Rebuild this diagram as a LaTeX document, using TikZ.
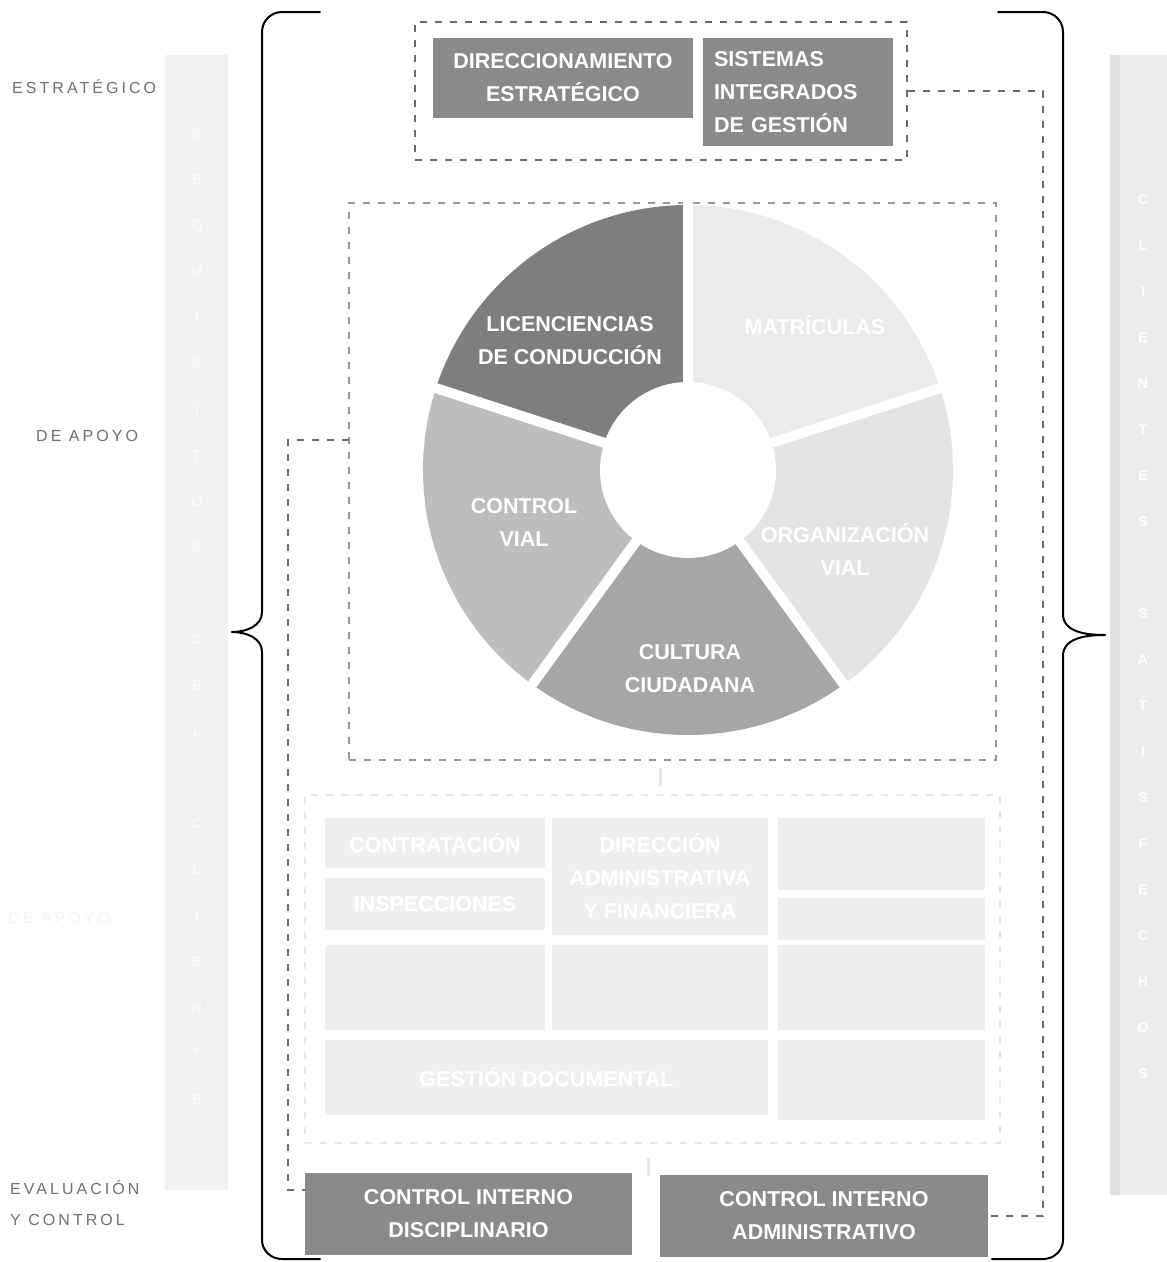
\documentclass[tikz,border=0pt]{standalone}
\usepackage{fontspec}
\setmainfont{Liberation Sans}
\usetikzlibrary{calc}
\definecolor{boxgray}{HTML}{8A8A8A}
\definecolor{dashgray}{HTML}{6A6A6A}
\definecolor{lblgray}{HTML}{707070}
\definecolor{licgray}{HTML}{7E7E7E}
\definecolor{ctrlgray}{HTML}{BDBDBD}
\definecolor{cultgray}{HTML}{A6A6A6}
\definecolor{orggray}{HTML}{E4E4E7}
\definecolor{matgray}{HTML}{EBEBED}
\definecolor{barlight}{HTML}{F1F1F3}
\definecolor{barright}{HTML}{EDEDF0}
\definecolor{barstrip}{HTML}{E1E1E5}
\definecolor{cellgray}{HTML}{EFEFF2}
\definecolor{faintline}{HTML}{E6E6E8}
\newcommand{\rsBoxFont}{\fontsize{21.5}{33}\selectfont\bfseries}
\newcommand{\rsLblFont}{\fontsize{16}{32}\selectfont\addfontfeature{LetterSpace=19}}
\newcommand{\rsBarFont}{\fontsize{14}{15}\selectfont\bfseries}
\begin{document}
\begin{tikzpicture}[x=1pt,y=-1pt,
  darkbox/.style={fill=boxgray, text=white, font=\rsBoxFont, align=center, inner sep=0pt},
  dashline/.style={draw=dashgray, line width=1.4pt, dash pattern=on 7pt off 8pt},
  faintdash/.style={draw=faintline, line width=1.2pt, dash pattern=on 7pt off 8pt},
  piebox/.style={draw=dashgray!70, line width=1.2pt, dash pattern=on 7pt off 8pt, inner sep=0pt},
  lbl/.style={text=lblgray, font=\rsLblFont, anchor=west, align=left, inner sep=0pt},
  pietext/.style={text=white, font=\rsBoxFont, align=center, inner sep=0pt},
  cell/.style={fill=cellgray, text=white, font=\rsBoxFont, align=center, inner sep=0pt},
  bartext/.style={text=white, font=\rsBarFont, inner sep=0pt},
  brace/.style={draw=black, line width=2pt, line cap=round, line join=round}]
\useasboundingbox (0,0) rectangle (1167,1262);
\fill[white] (0,0) rectangle (1167,1262);

% side bars
\fill[barlight] (165,55) rectangle (228,1190);
\fill[barright] (1110,55) rectangle (1167,1195);
\fill[barstrip] (1110,55) rectangle (1120,1195);
\foreach \ch [count=\i from 0] in {R,E,Q,U,I,S,I,T,O,S,{},D,E,L,{},C,L,I,E,N,T,E}
  \node[bartext, text=white!60!barlight] (lb\i) at (197,134+46*\i) {\ch};
\foreach \ch [count=\i from 0] in {C,L,I,E,N,T,E,S,{},S,A,T,I,S,F,E,C,H,O,S}
  \node[bartext] (rb\i) at (1143,200+46*\i) {\ch};

% left labels
\node[lbl] (lblE) at (12,87) {ESTRATÉGICO};
\node[lbl] (lblA) at (36,436) {DE APOYO};
\node[lbl, text=black!4] (lblA2) at (8,918) {DE APOYO};
\node[lbl] (lblV) at (10,1188) {EVALUACIÓN};
\node[lbl] (lblC) at (10,1220) {Y CONTROL};

% braces
\draw[brace] (320,12) -- (282,12) to[out=180,in=90] (262,32) -- (262,612) to[out=-90,in=0] (232,632) to[out=0,in=90] (262,652) -- (262,1240) to[out=-90,in=180] (282,1259) -- (320,1259);
\draw[brace] (998,12) -- (1043,12) to[out=0,in=90] (1063,32) -- (1063,614) to[out=-90,in=180] (1105,635) to[out=180,in=90] (1063,656) -- (1063,1240) to[out=-90,in=0] (1043,1259) -- (992,1259);

% strategic group
\node[piebox, draw=dashgray, minimum width=492pt, minimum height=138pt] (estrbox) at (661,91) {};
\node[darkbox, minimum width=260pt, minimum height=80pt] (dir) at (563,78) {DIRECCIONAMIENTO\\ESTRATÉGICO};
\node[darkbox, minimum width=190pt, minimum height=108pt, text width=168pt, align=left] (sig) at (798,92) {SISTEMAS\\INTEGRADOS\\DE GESTIÓN};

% pie group
\node[piebox, minimum width=647pt, minimum height=557pt] (piebox) at (672.5,481.5) {};
\coordinate (C) at (688,470);
\foreach \a/\b/\c in {90/162/licgray, 162/234/ctrlgray, 234/306/cultgray, 306/378/orggray, 18/90/matgray}
  \fill[\c] (C) -- ($(C)+(-\a:265)$) arc[start angle=-\a, end angle=-\b, radius=265] -- cycle;
\foreach \a in {90,162,234,306,18}
  \draw[white, line width=10pt] (C) -- ($(C)+(-\a:275)$);
\fill[white] (C) circle[radius=88];
\node[pietext] (lic) at (570,341) {LICENCIENCIAS\\DE CONDUCCIÓN};
\node[pietext] (mat) at (815,325) {MATRÍCULAS};
\node[pietext] (ctrl) at (524,522) {CONTROL\\VIAL};
\node[pietext] (org) at (845,549) {ORGANIZACIÓN\\VIAL};
\node[pietext] (cult) at (690,669) {CULTURA\\CIUDADANA};

% faint support grid
\node[faintdash, minimum width=695pt, minimum height=348pt, inner sep=0pt] (gridbox) at (652.5,969) {};
\node[cell, minimum width=220pt, minimum height=50pt] (g1) at (435,843) {CONTRATACIÓN};
\node[cell, minimum width=220pt, minimum height=52pt] (g2) at (435,904) {INSPECCIONES};
\node[cell, minimum width=216pt, minimum height=117pt] (g3) at (660,876.5) {DIRECCIÓN\\ADMINISTRATIVA\\Y FINANCIERA};
\node[cell, minimum width=207pt, minimum height=72pt] (g4) at (881.5,854) {};
\node[cell, minimum width=207pt, minimum height=42pt] (g5) at (881.5,919) {};
\node[cell, minimum width=220pt, minimum height=85pt] (g6) at (435,987.5) {};
\node[cell, minimum width=216pt, minimum height=85pt] (g7) at (660,987.5) {};
\node[cell, minimum width=207pt, minimum height=85pt] (g8) at (881.5,987.5) {};
\node[cell, minimum width=443pt, minimum height=75pt] (g9) at (546.5,1077.5) {GESTIÓN DOCUMENTAL};
\node[cell, minimum width=207pt, minimum height=80pt] (g10) at (881.5,1080) {};
\coordinate (m1a) at (660,768); \coordinate (m1b) at (660,786);
\coordinate (m2a) at (648,1158); \coordinate (m2b) at (648,1176);
\draw[faintline, line width=3pt] (m1a) -- (m1b);
\draw[faintline, line width=3pt] (m2a) -- (m2b);

% evaluation boxes
\node[darkbox, minimum width=327pt, minimum height=82pt] (cid) at (468.5,1214) {CONTROL INTERNO\\DISCIPLINARIO};
\node[darkbox, minimum width=328pt, minimum height=82pt] (cia) at (824,1216) {CONTROL INTERNO\\ADMINISTRATIVO};

% dashed connectors
\coordinate (r1) at (1043,91);
\draw[dashline] (estrbox.east) -- (r1) |- (cia.east);
\coordinate (l0) at (349,440);
\coordinate (l1) at (288,440);
\coordinate (l2) at (305,1190);
\draw[dashline] (l0) -- (l1) |- (l2);
\end{tikzpicture}
\end{document}
